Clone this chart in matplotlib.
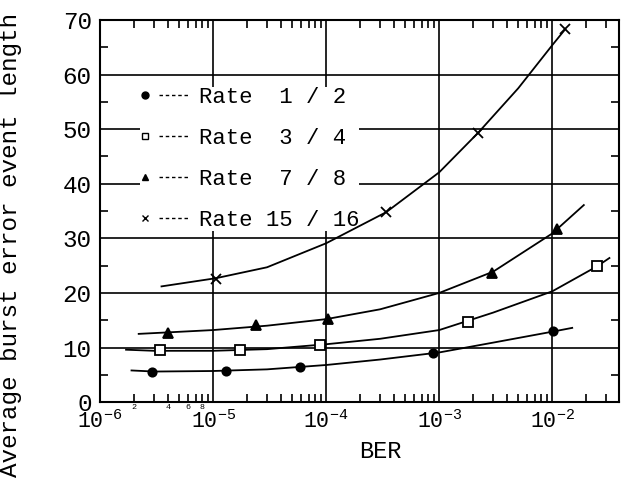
import math
import matplotlib
matplotlib.use("Agg")
import matplotlib.pyplot as plt
import matplotlib.ticker as mticker
from matplotlib.lines import Line2D
from matplotlib.legend_handler import HandlerLine2D

plt.rcParams["font.family"] = ["Liberation Mono", "DejaVu Sans"]
plt.rcParams["mathtext.fontset"] = "custom"
plt.rcParams["mathtext.rm"] = "Liberation Mono"

# ── data ────────────────────────────────────────────────────────────────
labels = ["Rate  1 / 2", "Rate  3 / 4", "Rate  7 / 8", "Rate 15 / 16"]
markers = ["o", "s", "^", "x"]
fills = ["k", "white", "k", "k"]
msizes = [6, 7, 7, 7]

# measured points (markers)
pts_x = [
    [2.9e-6, 1.3e-5, 5.9e-5, 8.9e-4, 1.02e-2],
    [3.4e-6, 1.74e-5, 8.9e-5, 1.8e-3, 2.46e-2],
    [4.0e-6, 2.4e-5, 1.04e-4, 2.9e-3, 1.1e-2],
    [1.06e-5, 3.4e-4, 2.2e-3, 1.3e-2],
]
pts_y = [
    [5.5, 5.7, 6.4, 9.0, 13.0],
    [9.5, 9.5, 10.4, 14.7, 24.9],
    [12.6, 14.2, 15.2, 23.6, 31.7],
    [22.6, 34.8, 49.3, 68.3],
]

# hand-drawn curves through the points
crv_x = [
    [1.9e-6, 3e-6, 1e-5, 3e-5, 1e-4, 3e-4, 1e-3, 3e-3, 1e-2, 1.5e-2],
    [1.7e-6, 3e-6, 1e-5, 3e-5, 1e-4, 3e-4, 1e-3, 3e-3, 1e-2, 2.5e-2, 3.2e-2],
    [2.2e-6, 1e-5, 3e-5, 1e-4, 3e-4, 1e-3, 3e-3, 1e-2, 1.9e-2],
    [3.5e-6, 1.06e-5, 3e-5, 1e-4, 3.4e-4, 1e-3, 2.2e-3, 5e-3, 1e-2, 1.3e-2],
]
crv_y = [
    [5.8, 5.6, 5.7, 6.0, 6.8, 7.8, 9.1, 10.9, 12.9, 13.6],
    [9.6, 9.4, 9.4, 9.7, 10.6, 11.6, 13.2, 16.4, 20.3, 24.9, 26.4],
    [12.5, 13.2, 14.0, 15.2, 17.0, 20.0, 23.9, 30.9, 36.1],
    [21.2, 22.7, 24.7, 29.1, 34.8, 42.1, 49.3, 57.5, 65.4, 68.3],
]


class MarkerFirst(HandlerLine2D):
    # marker on the left, dashes after it ("•---")
    def create_artists(self, legend, orig, xdescent, ydescent, width, height,
                       fontsize, trans):
        y = height / 2 - ydescent
        dash = Line2D([width * 0.4, width], [y, y], color="k", lw=1.0,
                      ls=(0, (2.5, 2)), transform=trans)
        mk = Line2D([width * 0.1], [y], marker=orig.get_marker(), ls="none",
                    color="k", markerfacecolor=orig.get_markerfacecolor(),
                    markersize=5, transform=trans)
        return [dash, mk]


fig = plt.figure(figsize=(6.21, 4.88), dpi=100)
ax = fig.add_axes([0.161, 0.176, 0.836, 0.783])

handles = []
for i in range(4):
    ax.plot(crv_x[i], crv_y[i], color="k", lw=1.3, zorder=3)
    ax.plot(pts_x[i], pts_y[i], ls="none", marker=markers[i], color="k",
            markerfacecolor=fills[i], markersize=msizes[i],
            markeredgewidth=1.3, zorder=4)
    handles.append(Line2D([], [], marker=markers[i], color="k",
                          markerfacecolor=fills[i], ls="--"))

ax.set_xscale("log")
ax.set_xlim(1e-6, 0.039)
ax.set_ylim(0, 70)

ax.xaxis.set_major_locator(mticker.LogLocator(base=10, numticks=10))
ax.xaxis.set_minor_locator(mticker.LogLocator(base=10, subs=range(2, 10), numticks=20))
ax.xaxis.set_major_formatter(mticker.FuncFormatter(
    lambda v, _: r"$\mathregular{10^{%d}}$" % round(math.log10(v))))


def minor_lab(v, _):
    if 1e-6 < v < 1e-5:
        d = round(v / 1e-6)
        if d in (2, 4, 6, 8):
            return str(d)
    return ""


ax.xaxis.set_minor_formatter(mticker.FuncFormatter(minor_lab))
ax.yaxis.set_major_locator(mticker.MultipleLocator(10))
ax.yaxis.set_minor_locator(mticker.MultipleLocator(5))

ax.tick_params(which="both", direction="in", top=True, right=True, width=1.2)
ax.tick_params(which="major", length=0, labelsize=17.5, pad=6)
ax.tick_params(axis="x", which="major", labelsize=15.5, pad=6)
ax.tick_params(axis="x", which="minor", length=6, labelsize=6, pad=1)
ax.tick_params(axis="y", which="minor", length=6)

ax.grid(True, which="major", color="k", lw=1.2)
for s in ax.spines.values():
    s.set_linewidth(1.5)

ax.set_xlabel("BER", fontsize=17)
ax.xaxis.set_label_coords(0.54, -0.1)
ax.set_ylabel("Average burst error event length", fontsize=17.5)
ax.yaxis.set_label_coords(-0.15, 0.41)

leg = ax.legend(handles, labels, loc="upper left", bbox_to_anchor=(0.055, 0.855),
                frameon=True, fancybox=False, edgecolor="none", facecolor="white",
                framealpha=1, fontsize=16, handlelength=2.2, handletextpad=0.45,
                labelspacing=0.9, borderpad=0.0,
                handler_map={Line2D: MarkerFirst()})
leg.set_zorder(2)  # hides the grid, stays under the curves

fig.savefig("out.png", dpi=100)
